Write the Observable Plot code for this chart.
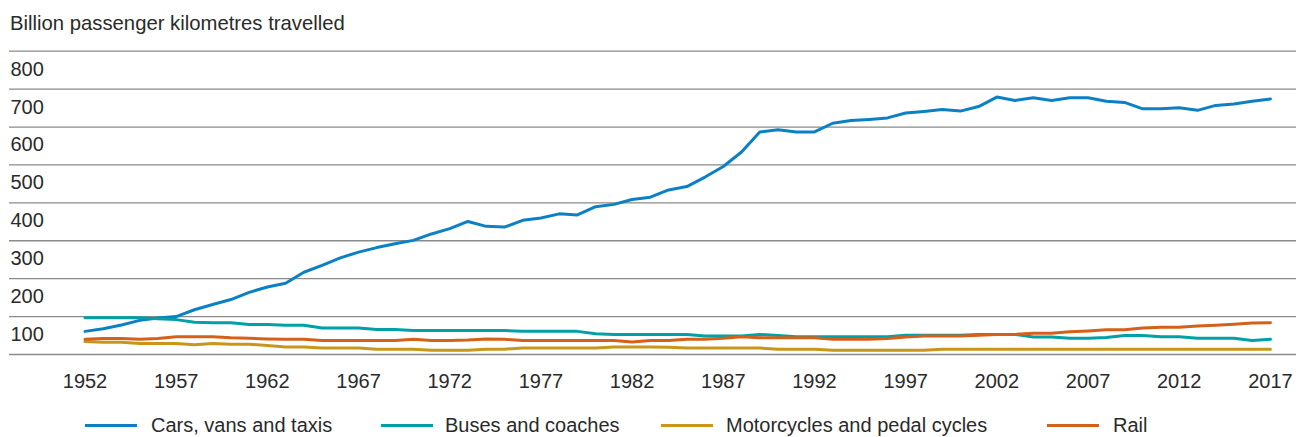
<!DOCTYPE html>
<html>
<head>
<meta charset="utf-8">
<script src="https://cdn.jsdelivr.net/npm/d3@7"></script>
<script src="https://cdn.jsdelivr.net/npm/@observablehq/plot@0.6"></script>
<style>
  html, body { margin: 0; padding: 0; background: #fff; }
  body { width: 1296px; height: 437px; position: relative; overflow: hidden; font-family: "Liberation Sans", Arial, sans-serif; color: #333; }
  #title { position: absolute; left: 10px; top: 11px; font-size: 20.3px; line-height: 24px; color: #2a2a2a; }
  #chart { position: absolute; left: 0; top: 40px; }
  .leg { position: absolute; top: 413px; font-size: 20px; line-height: 24px; color: #2a2a2a; white-space: nowrap; }
  .sw { position: absolute; top: 424px; height: 3px; width: 52px; }
</style>
</head>
<body>
<div id="title">Billion passenger kilometres travelled</div>
<div id="chart"></div>
<div id="legend"></div>
<script>
const years = Array.from({length: 66}, (_, i) => 1952 + i);
const seriesNames = ["Cars, vans and taxis", "Buses and coaches", "Motorcycles and pedal cycles", "Rail"];
const seriesColors = ["#0b80c5", "#00a0a8", "#c9961a", "#d4601a"];
const cars = [61,68,78,90,96,100,118,132,145,164,178,188,217,235,255,270,282,
  292,301,318,332,351,338,336,354,360,371,368,390,396,409,415,434,443,
  468,496,534,587,593,587,587,610,617,620,624,637,641,646,642,654,
  679,670,677,670,677,677,668,665,648,648,651,644,657,661,668,674];
const buses = [97,97,97,97,94,92,85,84,84,79,79,77,77,70,70,70,66,66,
  63,63,63,63,63,63,61,61,61,61,55,53,53,53,53,53,49,49,49,53,50,47,47,47,
  47,47,47,51,51,51,51,53,53,53,46,46,43,43,45,50,50,47,47,43,43,43,37,40];
const moto = [34,32,32,29,29,29,26,29,27,27,24,20,20,17,17,17,14,14,
  14,11,11,11,14,14,17,17,17,17,17,20,20,20,19,17,17,17,17,17,14,14,14,11,
  11,11,11,11,11,14,14,14,14,14,14,14,14,14,14,14,14,14,14,14,14,14,14,14];
const rail = [40,42,42,40,42,47,47,47,44,43,41,40,40,37,37,37,37,37,
  40,37,37,38,41,40,37,37,37,37,37,37,33,37,37,40,40,43,47,44,44,44,44,40,
  40,40,42,46,49,49,49,51,53,53,56,56,60,62,65,65,70,72,72,75,77,80,83,84];
const yTicks = [100,200,300,400,500,600,700,800];
const gridValues = [0,100,200,300,400,500,600,700,800];
const xTicks = [1952,1957,1962,1967,1972,1977,1982,1987,1992,1997,2002,2007,2012,2017];

const allSeries = [cars, buses, moto, rail];
const rows = [];
allSeries.forEach((vals, s) => vals.forEach((v, i) => rows.push({year: years[i], value: v, series: seriesNames[s]})));

const chart = Plot.plot({
  width: 1296,
  height: 360,
  marginTop: 10.7,
  marginBottom: 46,
  marginLeft: 9,
  marginRight: 0,
  style: {fontFamily: '"Liberation Sans", Arial, sans-serif', fontSize: "20px", color: "#2a2a2a", background: "transparent"},
  x: {domain: [1947.86, 2018.43]},
  y: {domain: [0, 800]},
  color: {domain: seriesNames, range: seriesColors},
  marks: [
    Plot.ruleY(gridValues, {stroke: "#8a8a8a", strokeWidth: 1.3}),
    Plot.axisY(yTicks, {tickSize: 0, tickPadding: 0, textAnchor: "start", dx: 1, dy: 18, fontSize: 20, fill: "#2a2a2a", label: null}),
    Plot.axisX(xTicks, {tickSize: 0, tickPadding: 19, tickFormat: d => String(d), fontSize: 20, fill: "#2a2a2a", label: null}),
    Plot.lineY(rows, {x: "year", y: "value", z: "series", stroke: "series", strokeWidth: 3, strokeLinejoin: "round", strokeLinecap: "round"})
  ]
});
document.getElementById("chart").appendChild(chart);

const legendPos = [[85, 151], [381, 445], [661, 726], [1047, 1113]];
const legend = document.getElementById("legend");
seriesNames.forEach((name, i) => {
  const sw = document.createElement("div");
  sw.className = "sw";
  sw.style.left = legendPos[i][0] + "px";
  sw.style.background = seriesColors[i];
  legend.appendChild(sw);
  const t = document.createElement("div");
  t.className = "leg";
  t.style.left = legendPos[i][1] + "px";
  t.textContent = name;
  legend.appendChild(t);
});
</script>
</body>
</html>
